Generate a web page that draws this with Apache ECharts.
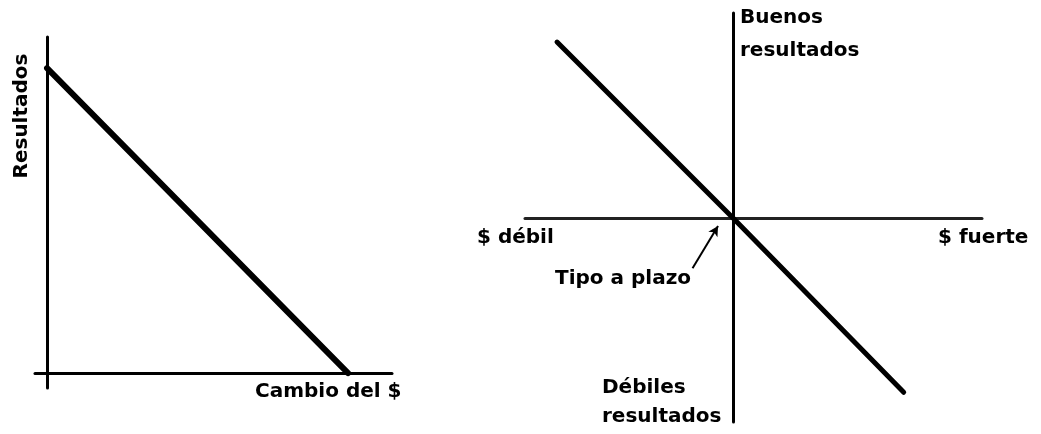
<!DOCTYPE html>
<html>
<head>
<meta charset="utf-8">
<script src="https://cdn.jsdelivr.net/npm/echarts@6/dist/echarts.min.js"></script>
<style>html,body{margin:0;padding:0;background:#fff}#c{width:1041px;height:434px}</style>
</head>
<body>
<div id="c"></div>
<script>
// Left panel: results vs change of the dollar
const leftX = [0, 10];
const leftY = [10, 0];
// Right panel: line through the forward rate
const rightX = [-10, 0, 9.7];
const rightY = [10, 0, -9.9];
// Arrow "Tipo a plazo" (from, to) in right-panel data units
const arrowFrom = [-2.3, -2.85];
const arrowTo = [-0.85, -0.45];
// Texts
const leftYName = 'Resultados';
const leftXName = 'Cambio del $';
const weakLabel = '$ débil';
const strongLabel = '$ fuerte';
const forwardLabel = 'Tipo a plazo';
const goodLabel = ['Buenos', 'resultados'];
const badLabel = ['Débiles', 'resultados'];

const FONT = "'DejaVu Sans', sans-serif";
const FS = 'bold 20px ';
const txt = (text, x, y, extra) => Object.assign({
  type: 'text', x: x, y: y,
  style: { text: text, font: FS + FONT, fill: '#000', textAlign: 'left', textVerticalAlign: 'top' }
}, extra || {});

const axisCommon = (w, color) => ({
  type: 'value',
  axisLine: { show: true, onZero: true, lineStyle: { color: color || '#000', width: w } },
  axisTick: { show: false },
  axisLabel: { show: false },
  splitLine: { show: false }
});

const chart = echarts.init(document.getElementById('c'), null, { renderer: 'canvas' });
chart.setOption({
  animation: false,
  backgroundColor: '#fff',
  grid: [
    { left: 35, top: 37, width: 357, height: 351, containLabel: false, outerBoundsMode: 'none' },
    { left: 525, top: 13, width: 457, height: 409, containLabel: false, outerBoundsMode: 'none' }
  ],
  xAxis: [
    Object.assign(axisCommon(3), { gridIndex: 0, min: -0.4, max: 11.46 }),
    Object.assign(axisCommon(3, '#222'), { gridIndex: 1, min: -11.82, max: 14.15 })
  ],
  yAxis: [
    Object.assign(axisCommon(3), { gridIndex: 0, min: -0.49, max: 11.02 }),
    Object.assign(axisCommon(3), { gridIndex: 1, min: -11.59, max: 11.65 })
  ],
  series: [
    {
      type: 'line', xAxisIndex: 0, yAxisIndex: 0, symbol: 'none',
      lineStyle: { color: '#000', width: 6, cap: 'round' },
      data: leftX.map((x, i) => [x, leftY[i]])
    },
    {
      type: 'line', xAxisIndex: 1, yAxisIndex: 1, symbol: 'none',
      lineStyle: { color: '#000', width: 5, cap: 'round' },
      data: rightX.map((x, i) => [x, rightY[i]]),
      markLine: {
        silent: true,
        symbol: ['none', 'arrow'],
        symbolSize: [8, 10],
        label: { show: false },
        lineStyle: { color: '#000', width: 2, type: 'solid' },
        data: [[{ coord: arrowFrom }, { coord: arrowTo }]]
      }
    }
  ],
  graphic: [
    txt(leftYName, 22, 116, { rotation: Math.PI / 2, style: { text: leftYName, font: FS + FONT, fill: '#000', textAlign: 'center', textVerticalAlign: 'middle' } }),
    txt(leftXName, 255, 382),
    txt(weakLabel, 477, 228),
    txt(strongLabel, 938, 228),
    txt(forwardLabel, 555, 269),
    txt(goodLabel[0], 740, 8),
    txt(goodLabel[1], 740, 41),
    txt(badLabel[0], 602, 378),
    txt(badLabel[1], 602, 407)
  ]
});
</script>
</body>
</html>
